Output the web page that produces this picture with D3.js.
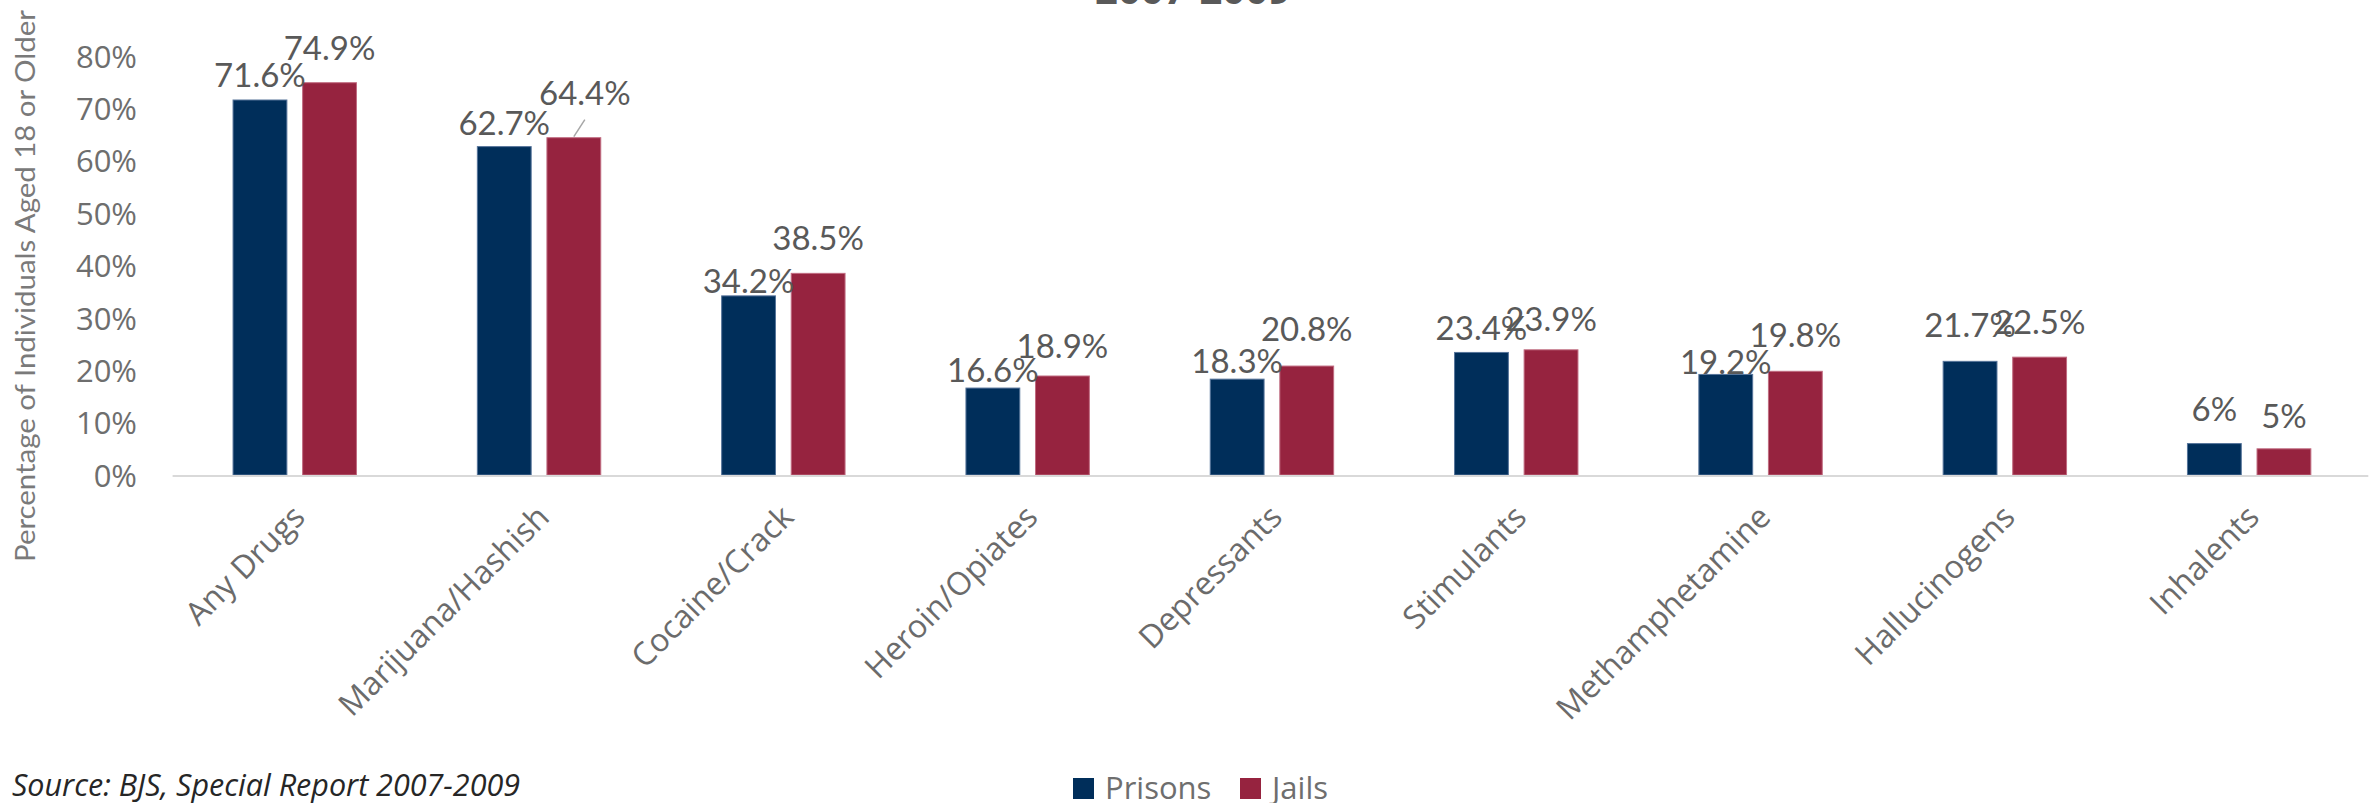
<!DOCTYPE html>
<html>
<head>
<meta charset="utf-8">
<script src="https://cdnjs.cloudflare.com/ajax/libs/d3/7.8.5/d3.min.js"></script>
<style>
  html, body { margin: 0; padding: 0; background: #ffffff; }
  svg { display: block; }
</style>
</head>
<body>
<svg id="chart" width="2374" height="803"></svg>
<script>
// Drug use reported by people in prisons and jails, 2007-2009
const categories = ["Any Drugs", "Marijuana/Hashish", "Cocaine/Crack", "Heroin/Opiates",
  "Depressants", "Stimulants", "Methamphetamine", "Hallucinogens", "Inhalents"];
const seriesNames = ["Prisons", "Jails"];
const prisons = [71.6, 62.7, 34.2, 16.6, 18.3, 23.4, 19.2, 21.7, 6];
const jails   = [74.9, 64.4, 38.5, 18.9, 20.8, 23.9, 19.8, 22.5, 5];
const yTicks  = [0, 10, 20, 30, 40, 50, 60, 70, 80];

// how far (px) each value label sits above its bar
const prisonsLabelLift = [13, 12, 3, 6, 6, 12, 0, 24, 23];
const jailsLabelLift   = [23, 33, 23, 18, 25, 19, 24, 23, 21];

const colors = { Prisons: "#002E5A", Jails: "#96233F" };
const strokes = { Prisons: "#56749a", Jails: "#c06b80" };

const svg = d3.select("#chart");

const plot = { left: 172.6, right: 2371.3, top: 56, bottom: 475 };

const x0 = d3.scaleBand().domain(categories).range([plot.left, plot.right]).paddingInner(0).paddingOuter(0);
const x1 = d3.scaleBand().domain(seriesNames)
  .range([x0.bandwidth() / 2 - 62.2, x0.bandwidth() / 2 + 62.2])
  .paddingInner(0.212).paddingOuter(0);
const y = d3.scaleLinear().domain([0, 80]).range([plot.bottom, plot.top]);

const rows = categories.map((c, i) => ({ cat: c, values: [
  { key: "Prisons", v: prisons[i], lift: prisonsLabelLift[i] },
  { key: "Jails", v: jails[i], lift: jailsLabelLift[i] }
]}));

// title line (partly above the visible area)
svg.append("text")
  .attr("x", 1193).attr("y", 4)
  .attr("text-anchor", "middle")
  .attr("font-family", "'Open Sans', sans-serif")
  .attr("font-weight", 700)
  .attr("font-size", 40)
  .attr("fill", "#595959")
  .text("2007-2009");

// y axis (labels only)
const yAxis = d3.axisLeft(y).tickValues(yTicks).tickFormat(d => d + "%").tickSize(0).tickPadding(0);
const gy = svg.append("g").attr("transform", `translate(137,0)`).call(yAxis);
gy.select(".domain").remove();
gy.selectAll("text")
  .attr("font-family", "'Open Sans', sans-serif")
  .attr("font-size", 31)
  .attr("fill", "#6e6e6e")
  .attr("dy", "0.36em");

// y axis title
svg.append("text")
  .attr("transform", `translate(35,${286}) rotate(-90)`)
  .attr("text-anchor", "middle")
  .attr("font-family", "Lato, sans-serif")
  .attr("font-size", 27)
  .attr("fill", "#7a7a7a")
  .attr("textLength", 552)
  .attr("lengthAdjust", "spacingAndGlyphs")
  .text("Percentage of Individuals Aged 18 or Older");

// bars
const groups = svg.append("g").selectAll("g").data(rows).join("g")
  .attr("transform", d => `translate(${x0(d.cat)},0)`);

groups.selectAll("rect").data(d => d.values).join("rect")
  .attr("x", d => x1(d.key) + 0.5)
  .attr("y", d => y(d.v))
  .attr("width", x1.bandwidth() - 1)
  .attr("height", d => y(0) - y(d.v))
  .attr("fill", d => colors[d.key])
  .attr("stroke", d => strokes[d.key])
  .attr("stroke-width", 1);

// leader line for the label pulled away from its bar
const leaderIdx = 1;
svg.append("line")
  .attr("x1", x0(categories[leaderIdx]) + x1("Jails") + x1.bandwidth() / 2)
  .attr("y1", y(jails[leaderIdx]) - 1)
  .attr("x2", x0(categories[leaderIdx]) + x1("Jails") + x1.bandwidth() / 2 + 11)
  .attr("y2", y(jails[leaderIdx]) - 18)
  .attr("stroke", "#a6a6a6").attr("stroke-width", 1.5);

// value labels
groups.selectAll("text.val").data(d => d.values).join("text")
  .attr("class", "val")
  .attr("x", (d, i, n) => x1(d.key) + x1.bandwidth() / 2 + (d.key === "Jails" && d.lift > 30 ? 11 : 0))
  .attr("y", d => y(d.v) - d.lift)
  .attr("text-anchor", "middle")
  .attr("font-family", "Lato, sans-serif")
  .attr("font-size", 33)
  .attr("fill", "#595959")
  .text(d => d.v + "%");

// baseline
svg.append("line")
  .attr("x1", plot.left).attr("x2", plot.right - 3)
  .attr("y1", y(0) + 1).attr("y2", y(0) + 1)
  .attr("stroke", "#d9d9d9").attr("stroke-width", 2);

// category labels
const xAxis = d3.axisBottom(x0).tickSize(0).tickPadding(0);
const gx = svg.append("g").attr("transform", `translate(0,${plot.bottom})`).call(xAxis);
gx.select(".domain").remove();
gx.selectAll("text")
  .attr("font-family", "'Open Sans', sans-serif")
  .attr("font-size", 32)
  .attr("fill", "#6b6b6b")
  .attr("text-anchor", "end")
  .attr("dy", 0)
  .attr("y", 0)
  .attr("transform", "translate(12,44) rotate(-45)");

// legend
const legend = svg.append("g").attr("transform", "translate(1073,778)");
const legendX = [0, 167];
seriesNames.forEach((s, i) => {
  const g = legend.append("g").attr("transform", `translate(${legendX[i]},0)`);
  g.append("rect").attr("width", 21).attr("height", 21).attr("fill", colors[s]);
  g.append("text")
    .attr("x", 32).attr("y", 20.5)
    .attr("font-family", "'Open Sans', sans-serif")
    .attr("font-size", 31)
    .attr("fill", "#6e6e6e")
    .text(s);
});

// source note
svg.append("text")
  .attr("x", 12).attr("y", 796)
  .attr("font-family", "'Open Sans', sans-serif")
  .attr("font-style", "italic")
  .attr("font-size", 30.5)
  .attr("fill", "#262626")
  .text("Source: BJS, Special Report 2007-2009");
</script>
</body>
</html>
